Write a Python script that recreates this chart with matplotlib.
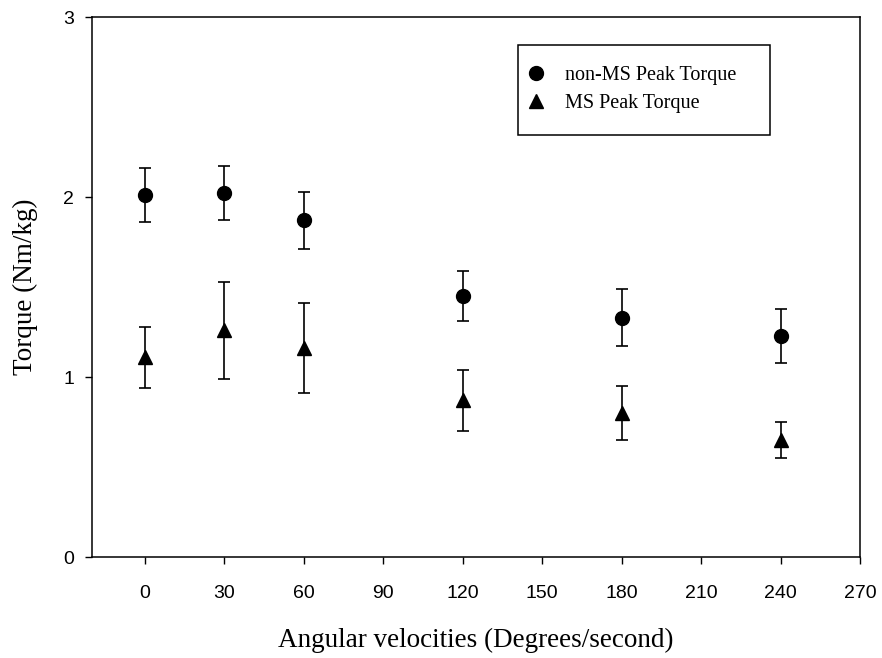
import matplotlib
matplotlib.use("Agg")
import matplotlib.pyplot as plt
from matplotlib.lines import Line2D
from matplotlib.patches import Rectangle

# angular velocities (deg/s)
velocities = [0, 30, 60, 120, 180, 240]

# peak torque, Nm/kg
non_ms_torque = [2.01, 2.02, 1.87, 1.45, 1.33, 1.23]
non_ms_err = [0.15, 0.15, 0.16, 0.14, 0.16, 0.15]
ms_torque = [1.11, 1.26, 1.16, 0.87, 0.80, 0.65]
ms_err = [0.17, 0.27, 0.25, 0.17, 0.15, 0.10]

x_ticks = list(range(0, 271, 30))
y_ticks = [0, 1, 2, 3]

serif = ["Liberation Serif", "DejaVu Serif"]
plt.rcParams["font.family"] = ["Liberation Sans", "DejaVu Sans"]

W, H = 882, 658
fig = plt.figure(figsize=(W / 100, H / 100), dpi=100)
ax = fig.add_axes([92 / W, 1 - 557 / H, (860 - 92) / W, (557 - 17) / H])

# error bars first, then markers on top
ax.errorbar(velocities, non_ms_torque, yerr=non_ms_err, fmt="o", color="black",
            markersize=10, capsize=4, elinewidth=1.2, capthick=1.2)
ax.errorbar(velocities, ms_torque, yerr=ms_err, fmt="^", color="black",
            markersize=9.5, capsize=4, elinewidth=1.2, capthick=1.2)

ax.set_xlim(-20, 270)
ax.set_ylim(0, 3)
ax.set_xticks(x_ticks)
ax.set_yticks(y_ticks)
ax.tick_params(direction="out", length=5, width=1, colors="black", labelsize=14)
ax.tick_params(axis="x", pad=15)
ax.tick_params(axis="y", pad=8)

for s in ax.spines.values():
    s.set_linewidth(1.1)
    s.set_color("black")

ax.set_xlabel("Angular velocities (Degrees/second)", family=serif, fontsize=19.5, labelpad=19)
ax.set_ylabel("Torque (Nm/kg)", family=serif, fontsize=19.5, labelpad=18)

# legend: markers only, box drawn separately
handles = [Line2D([], [], marker="o", color="black", linestyle="none", markersize=10),
           Line2D([], [], marker="^", color="black", linestyle="none", markersize=9.5)]
leg = ax.legend(handles, ["non-MS Peak Torque", "MS Peak Torque"],
                loc="upper left", bbox_to_anchor=(526 / W, 1 - 66 / H),
                bbox_transform=fig.transFigure, prop={"family": serif, "size": 14.5},
                frameon=False, borderpad=0, labelspacing=0.45, handlelength=1.0,
                handletextpad=0.95, borderaxespad=0)
fig.patches.append(Rectangle((518 / W, 1 - 135 / H), (770 - 518) / W, 90 / H,
                             transform=fig.transFigure, fill=False,
                             edgecolor="black", linewidth=1.1))

fig.savefig("out.png", dpi=100)
